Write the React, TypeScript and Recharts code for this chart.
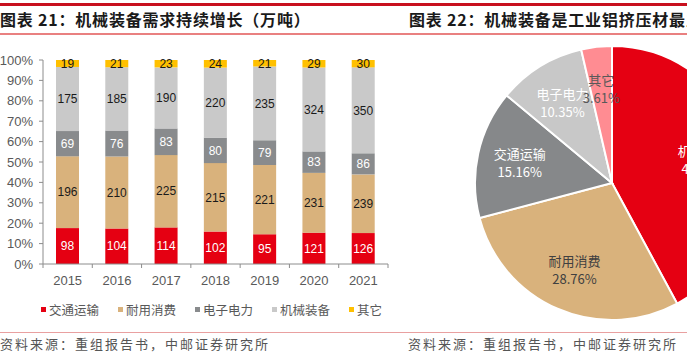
import { Bar, BarChart, Cell, LabelList, Legend, Pie, PieChart, XAxis, YAxis } from "recharts";

const FONT = '"Noto Sans CJK SC", "Noto Sans", sans-serif';
const NUM_FONT = '"Liberation Sans", Arial, sans-serif';
const AXIS = "#8c8c8c";
const TICK_TEXT = "#595959";

// left chart: demand by sector (10k tonnes)
const YEARS = ["2015", "2016", "2017", "2018", "2019", "2020", "2021"];
const TRANSPORT = [98, 104, 114, 102, 95, 121, 126];
const DURABLES = [196, 210, 225, 215, 221, 231, 239];
const ELECTRIC = [69, 76, 83, 80, 79, 83, 86];
const MACHINERY = [175, 185, 190, 220, 235, 324, 350];
const OTHER = [19, 21, 23, 24, 21, 29, 30];
const Y_TICKS = [0, 0.1, 0.2, 0.3, 0.4, 0.5, 0.6, 0.7, 0.8, 0.9, 1];

const SERIES = [
  { key: "交通运输", values: TRANSPORT, color: "#e50012", label: "#ffffff" },
  { key: "耐用消费", values: DURABLES, color: "#d9b27c", label: "#1a1a1a" },
  { key: "电子电力", values: ELECTRIC, color: "#898b8d", label: "#ffffff" },
  { key: "机械装备", values: MACHINERY, color: "#c9c9c9", label: "#1a1a1a" },
  { key: "其它", values: OTHER, color: "#ffc000", label: "#1a1a1a" },
];

// right chart: share of industrial extrusions, clockwise from 12 o'clock
const PIE_NAMES = ["机械装备", "耐用消费", "交通运输", "电子电力", "其它"];
const PIE_SHARES = [42.12, 28.76, 15.16, 10.35, 3.61];
const PIE_COLORS = ["#e50012", "#d9b27c", "#86888a", "#c8c8c8", "#ff8c92"];
const PIE_LABEL_COLORS = ["#ffffff", "#404040", "#ffffff", "#ffffff", "#595959"];

const SOURCE = "资料来源：重组报告书，中邮证券研究所";

const rows = YEARS.map((year, i) => {
  const row: Record<string, string | number> = { year };
  SERIES.forEach((s) => (row[s.key] = s.values[i]));
  return row;
});

const pieData = PIE_NAMES.map((name, i) => ({ name, share: PIE_SHARES[i] }));

const BAR_W = 400;
const BAR_H = 330;
const PLOT_LEFT = 43;
const PLOT_RIGHT = 388;
const BAND = (PLOT_RIGHT - PLOT_LEFT) / YEARS.length;

function YearTick(props: any) {
  const { x, y, payload, index } = props;
  const half = BAND / 2;
  return (
    <g>
      <line x1={x - half} x2={x - half} y1={y} y2={y + 4} stroke={AXIS} />
      {index === YEARS.length - 1 && <line x1={x + half} x2={x + half} y1={y} y2={y + 4} stroke={AXIS} />}
      <text x={x} y={y + 21} textAnchor="middle" fill={TICK_TEXT} fontSize={13} fontFamily={NUM_FONT}>
        {payload.value}
      </text>
    </g>
  );
}

function LegendRow() {
  return (
    <div style={{ display: "flex", alignItems: "center", fontFamily: FONT, fontSize: 12.5, color: TICK_TEXT }}>
      {SERIES.map((s) => (
        <div key={s.key} style={{ display: "flex", alignItems: "center", marginRight: 19 }}>
          <span style={{ width: 5, height: 5, background: s.color, marginRight: 3 }} />
          <span>{s.key}</span>
        </div>
      ))}
    </div>
  );
}

const RAD = Math.PI / 180;

function PieLabel(props: any) {
  const { cx, cy, midAngle, outerRadius, index } = props;
  const r = outerRadius * 0.69;
  const x = cx + r * Math.cos(-midAngle * RAD);
  const y = cy + r * Math.sin(-midAngle * RAD);
  const fill = PIE_LABEL_COLORS[index];
  return (
    <text x={x} y={y} textAnchor="middle" fill={fill} fontSize={13} fontFamily={FONT}>
      <tspan x={x} dy={-4}>{PIE_NAMES[index]}</tspan>
      <tspan x={x} dy={18}>{PIE_SHARES[index].toFixed(2)}%</tspan>
    </text>
  );
}

const titleStyle: React.CSSProperties = {
  position: "absolute",
  top: 8,
  fontFamily: FONT,
  fontSize: 16,
  fontWeight: 700,
  letterSpacing: 0.8,
  color: "#1a1a1a",
  whiteSpace: "nowrap",
  lineHeight: "22px",
};

const sourceStyle: React.CSSProperties = {
  position: "absolute",
  top: 335,
  fontFamily: FONT,
  fontSize: 13,
  letterSpacing: 2,
  color: "#555555",
  whiteSpace: "nowrap",
  lineHeight: "17px",
};

export default function App() {
  return (
    <div
      style={{
        position: "absolute",
        left: 0,
        top: 0,
        width: 687,
        height: 352,
        overflow: "hidden",
        background: "#fff",
        fontFamily: FONT,
      }}
    >
      <div style={{ position: "absolute", left: 0, top: 3, width: 687, height: 2.5, background: "#c8101e" }} />
      <div style={{ position: "absolute", left: 0, top: 33, width: 687, height: 1.5, background: "#e98080" }} />
      <div style={{ position: "absolute", left: 0, top: 331.5, width: 687, height: 1.5, background: "#e9a0a0" }} />

      <div style={{ ...titleStyle, left: 0 }}>图表 21：机械装备需求持续增长（万吨）</div>
      <div style={{ ...titleStyle, left: 409 }}>图表 22：机械装备是工业铝挤压材最主要的下游</div>

      <div style={{ position: "absolute", left: 0, top: 0 }}>
        <BarChart
          width={BAR_W}
          height={BAR_H}
          data={rows}
          stackOffset="expand"
          barSize={23}
          margin={{ top: 60, right: BAR_W - PLOT_RIGHT, bottom: 36, left: 0 }}
        >
          <XAxis
            dataKey="year"
            interval={0}
            tickSize={0}
            tickMargin={0}
            tickLine={false}
            axisLine={{ stroke: AXIS }}
            tick={<YearTick />}
            height={30}
          />
          <YAxis
            width={PLOT_LEFT}
            domain={[0, 1]}
            ticks={Y_TICKS}
            interval={0}
            tickSize={4}
            tickMargin={6}
            tickLine={{ stroke: AXIS }}
            axisLine={{ stroke: AXIS }}
            tickFormatter={(v: number) => `${Math.round(v * 100)}%`}
            tick={{ fill: TICK_TEXT, fontSize: 13, fontFamily: NUM_FONT }}
          />
          {SERIES.map((s) => (
            <Bar key={s.key} dataKey={s.key} stackId="a" fill={s.color} isAnimationActive={false}>
              <LabelList
                dataKey={s.key}
                position="center"
                fill={s.label}
                fontSize={12}
                fontFamily={NUM_FONT}
              />
            </Bar>
          ))}
          <Legend
            layout="horizontal"
            verticalAlign="middle"
            align="center"
            wrapperStyle={{ top: 300, left: 41, width: 360, height: 16 }}
            content={() => <LegendRow />}
          />
        </BarChart>
      </div>

      <div style={{ position: "absolute", left: 400, top: 0 }}>
        <PieChart width={287} height={352} margin={{ top: 0, right: 0, bottom: 0, left: 0 }}>
          <Pie
            data={pieData}
            dataKey="share"
            nameKey="name"
            cx={212}
            cy={183}
            outerRadius={137}
            startAngle={90}
            endAngle={-270}
            stroke="#ffffff"
            strokeWidth={2}
            labelLine={false}
            label={PieLabel}
            isAnimationActive={false}
          >
            {pieData.map((_, i) => (
              <Cell key={i} fill={PIE_COLORS[i]} />
            ))}
          </Pie>
        </PieChart>
      </div>

      <div style={{ ...sourceStyle, left: 0 }}>{SOURCE}</div>
      <div style={{ ...sourceStyle, left: 408 }}>{SOURCE}</div>
    </div>
  );
}
